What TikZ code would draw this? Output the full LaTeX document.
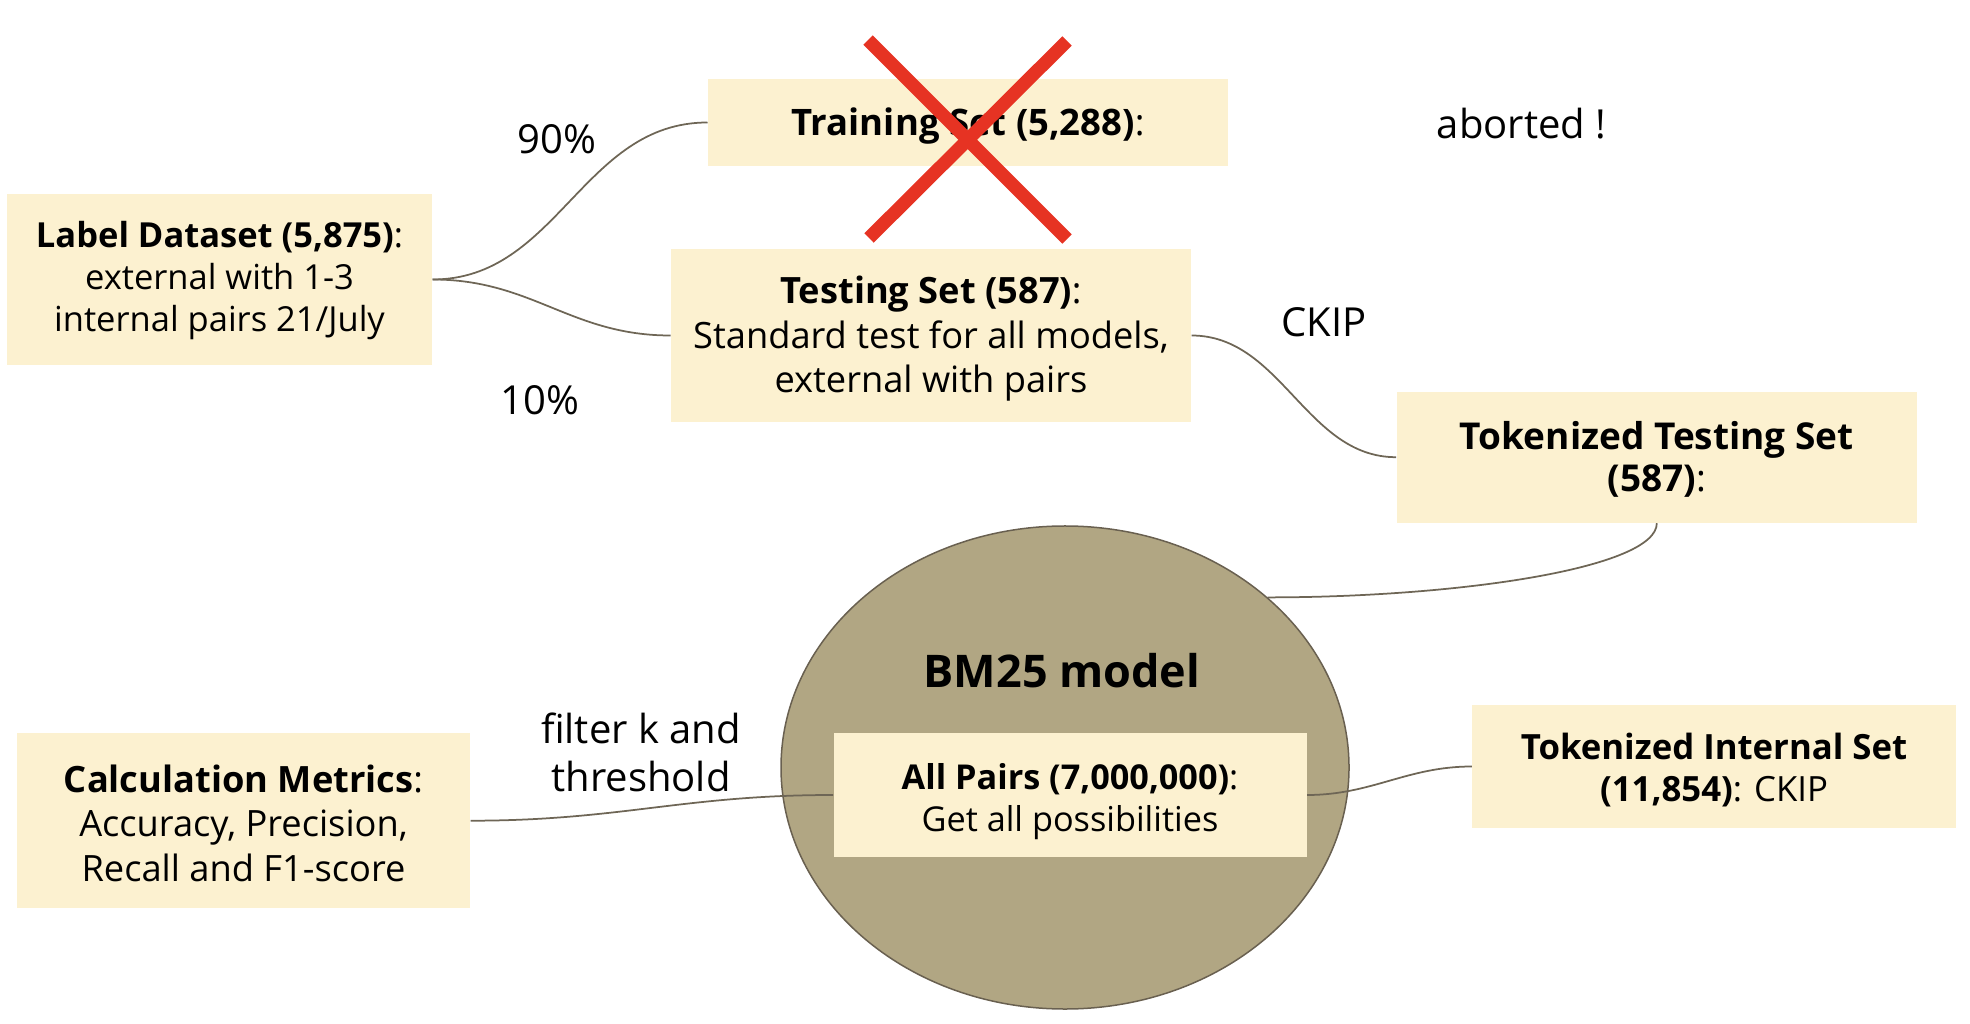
\documentclass[tikz,border=0pt]{standalone}
\usepackage{fontspec}
\setmainfont{Open Sans}
\usetikzlibrary{shapes.geometric}
\definecolor{boxfill}{RGB}{252,241,208}
\definecolor{ellfill}{RGB}{177,166,131}
\definecolor{ellline}{RGB}{105,96,80}
\definecolor{connc}{RGB}{110,102,86}
\definecolor{xred}{RGB}{230,51,35}
% strut on the first line that lowers the text block a little
\newcommand\tfix[1]{\rule{0pt}{\dimexpr0.76em+#1\relax}}
\begin{document}
\begin{tikzpicture}[x=0.4pt,y=-0.4pt,
  box/.style 2 args={fill=boxfill, inner sep=0pt, align=center, font=\fontsize{#1}{#2}\selectfont},
  lbl/.style={inner sep=0pt, align=center, font=\fontsize{16}{19.2}\selectfont},
  conn/.style={draw=connc, line width=0.7pt},
  cross/.style={draw=xred, line width=5.3pt, line cap=butt}]
\useasboundingbox (0,0) rectangle (1970,1024);

% BM25 ellipse
\node[ellipse, draw=ellline, fill=ellfill, line width=0.6pt, inner sep=0pt,
      minimum width=227.2pt, minimum height=193.2pt] (bm) at (1065,767.5) {};
\node[inner sep=0pt, font=\fontsize{18}{21}\selectfont\bfseries] (bmt) at (1062,671) {BM25 model};

% boxes
\node[box={13.8}{16.8}, minimum width=170pt, minimum height=68.4pt] (lab) at (219.5,279.5)
  {\tfix{1pt}\textbf{Label Dataset (5,875)}:\\external with 1-3\\internal pairs 21/July};
\node[box={14.6}{17.8}, minimum width=208pt, minimum height=34.8pt] (train) at (968,122.5)
  {\tfix{3pt}\textbf{Training Set (5,288)}:};
\node[box={14.5}{17.8}, minimum width=208pt, minimum height=69.2pt] (test) at (931,335.5)
  {\tfix{2.5pt}\textbf{Testing Set (587)}:\\Standard test for all models,\\external with pairs};
\node[box={14.8}{16.8}, minimum width=208.2pt, minimum height=52.4pt] (tok) at (1656.8,457.2)
  {\tfix{2pt}\textbf{Tokenized Testing Set}\\\textbf{(587)}:};
\node[box={13.7}{16.8}, minimum width=189.2pt, minimum height=49.6pt] (allp) at (1070,795)
  {\tfix{5pt}\textbf{All Pairs (7,000,000)}:\\Get all possibilities};
\node[box={13.9}{16.8}, minimum width=193.4pt, minimum height=49.2pt] (tint) at (1714,766.5)
  {\tfix{3pt}\textbf{Tokenized Internal Set}\\\textbf{(11,854)}: CKIP};
\node[box={14.5}{17.8}, minimum width=181.2pt, minimum height=69.8pt] (calc) at (243.5,820.7)
  {\tfix{2pt}\textbf{Calculation Metrics}:\\Accuracy, Precision,\\Recall and F1-score};

% labels
\node[lbl] (l90) at (556.6,139.5) {90\%};
\node[lbl] (l10) at (540,400.5) {10\%};
\node[lbl] (lab2) at (1521.5,124) {aborted !};
\node[lbl] (ckip) at (1324,322.5) {CKIP};
\node[lbl] (filt) at (641,752) {filter k and\\threshold};

% connectors
\draw[conn] (lab.east) .. controls +(125,0) and +(-125,0) .. (train.west);
\draw[conn] (lab.east) .. controls +(100,0) and +(-100,0) .. (test.west);
\draw[conn] (test.east) .. controls +(90,0) and +(-90,0) .. (tok.west);
\draw[conn] (tok.south) .. controls +(0,45) and +(190,0) .. (bm.40.5);
\draw[conn] (allp.east) .. controls +(65,0) and +(-65,0) .. (tint.west);
\draw[conn] (calc.east) .. controls +(150,0) and +(-150,0) .. (allp.west);

% red cross over the training set
\coordinate (xa) at (868,40);
\coordinate (xb) at (1067,239);
\coordinate (xc) at (1067,41);
\coordinate (xd) at (869,238);
\draw[cross] (xa) -- (xb);
\draw[cross] (xc) -- (xd);
\end{tikzpicture}
\end{document}
